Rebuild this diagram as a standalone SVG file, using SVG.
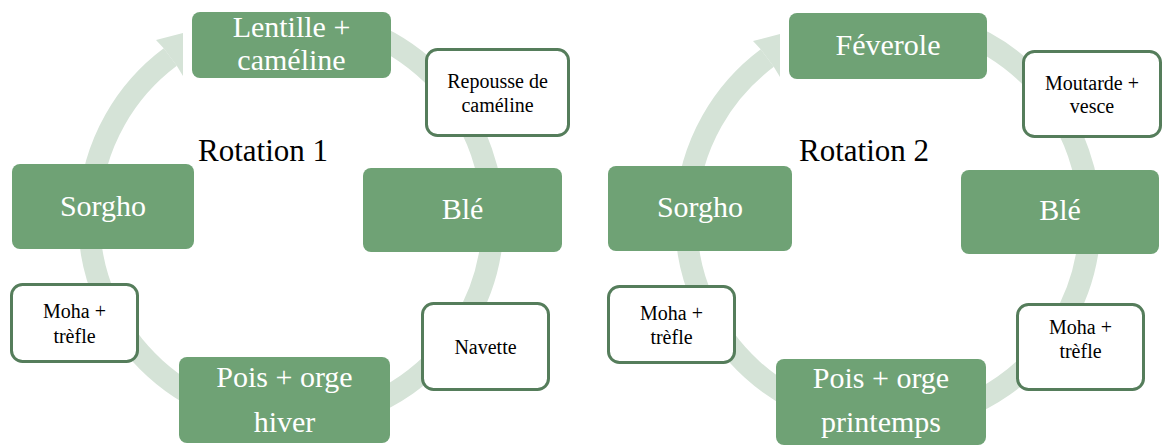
<svg xmlns="http://www.w3.org/2000/svg" width="1163" height="445" viewBox="0 0 1163 445">
<style>
.ring{fill:none;stroke:#D5E3D7;stroke-width:22;stroke-linecap:butt}
.head{fill:#D5E3D7}
.g rect{fill:#6FA275}
.g text{fill:#FFFFFF;font-size:30px;text-anchor:middle}
.w rect{fill:#FFFFFF;stroke:#557D5B;stroke-width:3}
.w text{fill:#000000;font-size:20px;text-anchor:middle}
.title{fill:#000000;font-size:31px}
</style>
<defs>
<g id="cycle">
<path class="ring" d="M360.1,29.2 A202,202 0 1 1 170.3,57"/>
<polygon class="head" points="156,40 183,33 183,76 176.9,65.9 163.7,48.2"/>
</g>
</defs>
<g id="connectors">
<use href="#cycle"/>
<use href="#cycle" transform="translate(597,1)"/>
</g>
<g font-family="Liberation Serif, Tinos, Times New Roman, DejaVu Serif, serif">
<text id="title1" class="title" x="198" y="161">Rotation 1</text>
<text id="title2" class="title" x="799" y="161">Rotation 2</text>
<g id="r1-lentille" class="g"><rect x="192" y="12" width="199" height="66" rx="8"/><text x="291.5" y="37">Lentille +</text><text x="291.5" y="70">caméline</text></g>
<g id="r1-ble" class="g"><rect x="363" y="168" width="199" height="84" rx="8"/><text x="462.5" y="219">Blé</text></g>
<g id="r1-pois" class="g"><rect x="179" y="357" width="211" height="86" rx="8"/><text x="284.5" y="387">Pois + orge</text><text x="284.5" y="432">hiver</text></g>
<g id="r1-sorgho" class="g"><rect x="12" y="164" width="182" height="85" rx="8"/><text x="103" y="216">Sorgho</text></g>
<g id="r1-repousse" class="w"><rect x="426.5" y="49.5" width="142" height="86" rx="11"/><text x="497.5" y="88">Repousse de</text><text x="497.5" y="112">caméline</text></g>
<g id="r1-navette" class="w"><rect x="422.5" y="303.5" width="126" height="86" rx="11"/><text x="485.5" y="354">Navette</text></g>
<g id="r1-moha" class="w"><rect x="11.5" y="284.5" width="126" height="77" rx="11"/><text x="74.5" y="318">Moha +</text><text x="74.5" y="343">trèfle</text></g>
<g id="r2-feverole" class="g"><rect x="789" y="13" width="198" height="66" rx="8"/><text x="888" y="55">Féverole</text></g>
<g id="r2-ble" class="g"><rect x="961" y="170" width="198" height="84" rx="8"/><text x="1060" y="220">Blé</text></g>
<g id="r2-pois" class="g"><rect x="776" y="359" width="210" height="86" rx="8"/><text x="881" y="388">Pois + orge</text><text x="881" y="432">printemps</text></g>
<g id="r2-sorgho" class="g"><rect x="608" y="166" width="184" height="85" rx="8"/><text x="700" y="217">Sorgho</text></g>
<g id="r2-moutarde" class="w"><rect x="1023.5" y="51.5" width="137" height="85" rx="11"/><text x="1092" y="90">Moutarde +</text><text x="1092" y="113">vesce</text></g>
<g id="r2-moha-right" class="w"><rect x="1017.5" y="304.5" width="126" height="85" rx="11"/><text x="1080.5" y="334">Moha +</text><text x="1080.5" y="358">trèfle</text></g>
<g id="r2-moha-left" class="w"><rect x="608.5" y="286.5" width="126" height="76" rx="11"/><text x="671.5" y="320">Moha +</text><text x="671.5" y="344">trèfle</text></g>
</g>
</svg>
